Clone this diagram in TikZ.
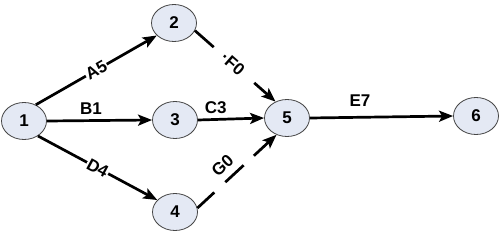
\documentclass[tikz,border=0pt]{standalone}
\usepackage{fontspec}
\setmainfont{Liberation Sans}
\usetikzlibrary{arrows.meta,shapes.geometric}
\definecolor{nodefill}{RGB}{228,233,244}
\definecolor{nodeedge}{RGB}{70,70,70}
\begin{document}
\begin{tikzpicture}[x=1pt,y=-1pt,
  evt/.style={ellipse, draw=nodeedge, line width=0.8pt, fill=nodefill,
    minimum width=45pt, minimum height=37pt, inner sep=0pt,
    font=\fontsize{17}{17}\selectfont\bfseries},
  act/.style={line width=2.7pt, -{Stealth[length=14pt,width=11pt,inset=3pt]}},
  lbl/.style={font=\fontsize{17}{17}\selectfont\bfseries, inner sep=1pt},
]
\useasboundingbox (0,0) rectangle (501,233);
\node[evt] (n1) at (24,121) {1};
\node[evt] (n2) at (174,23) {2};
\node[evt] (n3) at (175,120) {3};
\node[evt] (n4) at (175,212) {4};
\node[evt] (n5) at (287,118) {5};
\node[evt] (n6) at (476,116) {6};

\draw[act] (n1.54) -- node[lbl, sloped, fill=white, pos=0.5] (la) {A5} (n2.216);
\draw[act] (n1.east) -- node[lbl, above=4pt, pos=0.42] (lb) {B1} (n3.west);
\draw[act] (n3.east) -- node[lbl, above=3pt, pos=0.27] (lc) {C3} (n5.west);
\draw[act] (n1.-47) -- node[lbl, sloped, fill=white, pos=0.5] (ld) {D4} (n4.146);
\draw[act] (n5.east) -- node[lbl, above=8pt, pos=0.35] (le) {E7} (n6.west);
\draw[act, dash pattern=on 25pt off 54pt] (n2.-20) -- node[lbl, sloped, pos=0.47] (lf) {·F0} (n5.125);
\draw[act, dash pattern=on 23pt off 15pt on 25pt off 14pt] (n4.10) -- node[lbl, sloped, above=6pt, pos=0.44] (lg) {G0} (n5.238);
\end{tikzpicture}
\end{document}
